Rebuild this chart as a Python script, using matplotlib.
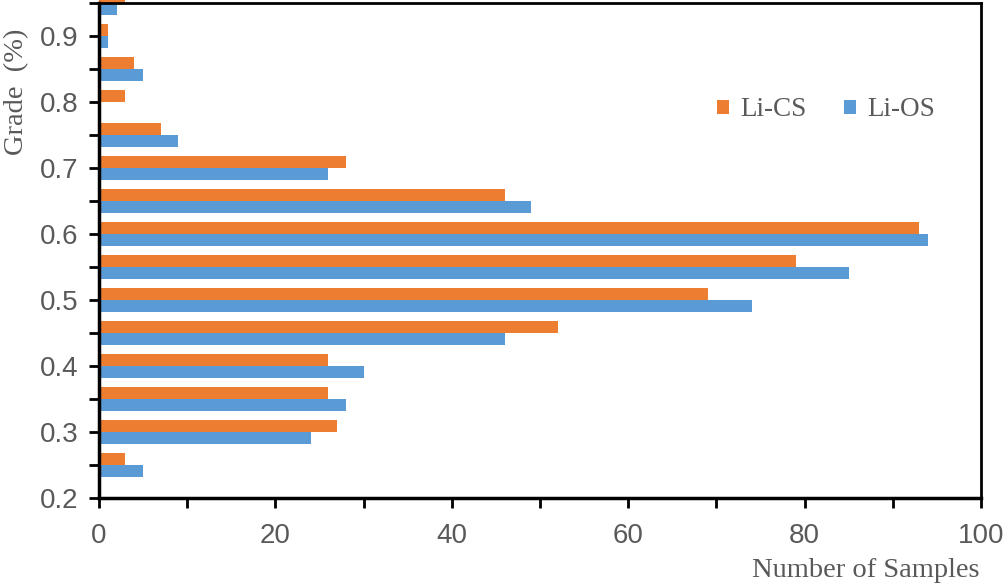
import matplotlib.pyplot as plt
import numpy as np

# grade bins (centre of each pair of bars)
grades = [0.25, 0.30, 0.35, 0.40, 0.45, 0.50, 0.55, 0.60,
          0.65, 0.70, 0.75, 0.80, 0.85, 0.90, 0.95]
li_cs = [3, 27, 26, 26, 52, 69, 79, 93, 46, 28, 7, 3, 4, 1, 3]
li_os = [5, 24, 28, 30, 46, 74, 85, 94, 49, 26, 9, 0, 5, 1, 2]

orange = '#ED7D31'
blue = '#5B9BD5'
grey = '#595959'

fig = plt.figure(figsize=(10.06, 5.87), dpi=100)
ax = fig.add_axes([99/1006, 1 - 498/587, (981 - 99)/1006, (498 - 3)/587])

y = np.array(grades)
h = 0.0186
ax.barh(y + h/2, li_cs, height=h, color=orange, label='Li-CS', clip_on=False, zorder=1)
ax.barh(y - h/2, li_os, height=h, color=blue, label='Li-OS', clip_on=False, zorder=1)

ax.set_xlim(0, 100)
ax.set_ylim(0.2, 0.95)

ax.set_xticks(np.arange(0, 101, 20))
ax.set_xticks(np.arange(10, 100, 20), minor=True)
ax.set_yticks(np.arange(0.2, 0.91, 0.1))
ax.set_yticklabels([f'{v:.1f}' for v in np.arange(0.2, 0.91, 0.1)])
ax.set_yticks(np.arange(0.25, 0.951, 0.1), minor=True)

for s in ax.spines.values():
    s.set_color('black')
    s.set_linewidth(2)
    s.set_zorder(3)
ax.spines['left'].set_linewidth(2.5)
ax.spines['bottom'].set_linewidth(2.5)

ax.tick_params(which='both', direction='out', length=7, width=2, color='black')
ax.tick_params(axis='both', which='major', labelsize=20, labelcolor=grey)
ax.tick_params(axis='x', which='major', pad=11)
ax.tick_params(axis='y', which='major', pad=8)
for lab in ax.get_xticklabels() + ax.get_yticklabels():
    lab.set_family('Liberation Sans')

fig.text(980/1006, 1 - 577/587, 'Number of Samples', ha='right', va='baseline',
         fontsize=20.5, family='Liberation Serif', color=grey)
fig.text(17/1006, 1 - 92/587, 'Grade  (%)', ha='center', va='center', rotation=90,
         fontsize=20.5, family='Liberation Serif', color=grey)

leg = fig.legend(loc='center left', bbox_to_anchor=(717/1006, 1 - 110/587),
                 ncol=2, frameon=False, borderpad=0, borderaxespad=0,
                 handlelength=0.45, handleheight=0.45, handletextpad=0.4,
                 columnspacing=1.4,
                 prop={'family': 'Liberation Serif', 'size': 19.5})
for t in leg.get_texts():
    t.set_color(grey)

fig.savefig('out.png', dpi=100)
